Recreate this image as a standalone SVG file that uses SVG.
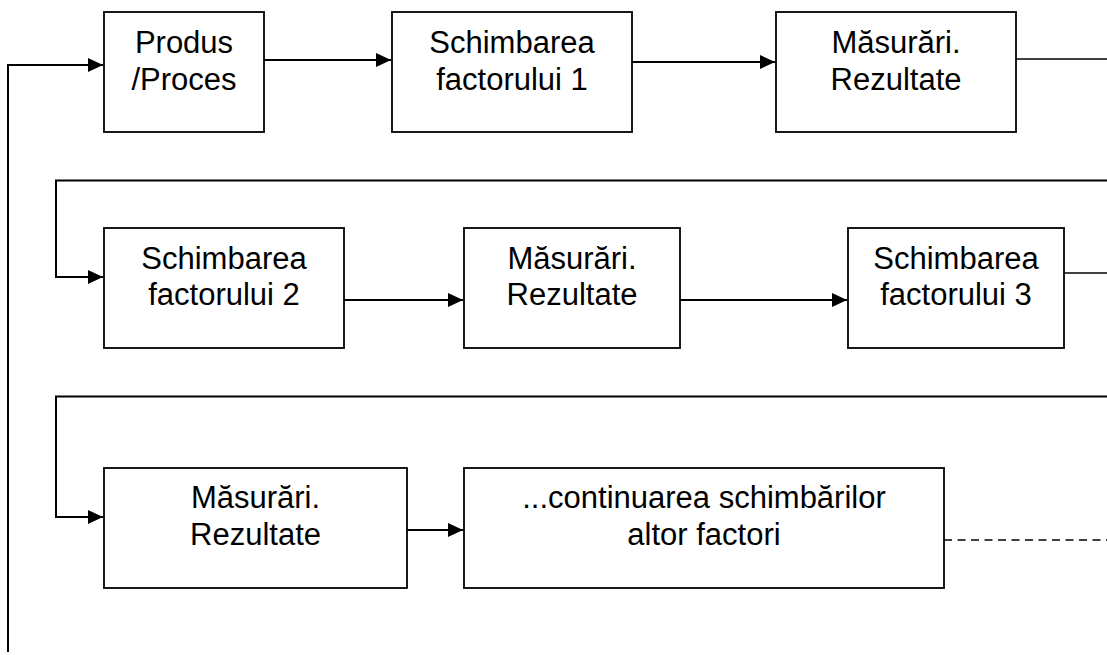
<svg xmlns="http://www.w3.org/2000/svg" width="1107" height="655" viewBox="0 0 1107 655">
  <style>
    .box { fill: #ffffff; stroke: #000000; stroke-width: 1.8; }
    .lbl { font-family: "Liberation Sans", Arial, sans-serif; font-size: 31px; fill: #000000; text-anchor: middle; }
    .wire { fill: none; stroke: #000000; stroke-width: 2; }
    .thin { fill: none; stroke: #000000; stroke-width: 1.5; }
    .dash { fill: none; stroke: #000000; stroke-width: 1.5; stroke-dasharray: 8 5.5; }
  </style>
  <defs>
    <marker id="arrow" markerUnits="userSpaceOnUse" markerWidth="15" markerHeight="14" refX="15" refY="7" orient="auto">
      <path d="M0,0 L15,7 L0,14 z" fill="#000000"/>
    </marker>
  </defs>

  <rect width="1107" height="655" fill="#ffffff"/>

  <!-- connectors -->
  <g id="connectors">
    <!-- feedback rail down the left edge, feeding the first box -->
    <path class="wire" d="M8,652 V65 H103" marker-end="url(#arrow)"/>
    <!-- row 1 -->
    <path class="wire" d="M264,60 H391" marker-end="url(#arrow)"/>
    <path class="wire" d="M632,62 H775" marker-end="url(#arrow)"/>
    <path class="thin" d="M1016,59 H1107"/>
    <!-- row 2 -->
    <path class="wire" d="M1107,180.5 H56 V277 H103" marker-end="url(#arrow)"/>
    <path class="wire" d="M344,300 H463" marker-end="url(#arrow)"/>
    <path class="wire" d="M680,300 H847" marker-end="url(#arrow)"/>
    <path class="thin" d="M1064,273 H1107"/>
    <!-- row 3 -->
    <path class="wire" d="M1107,396.5 H56 V517 H103" marker-end="url(#arrow)"/>
    <path class="wire" d="M407,530 H463" marker-end="url(#arrow)"/>
    <path class="dash" d="M944,540 H1107"/>
  </g>

  <!-- row 1 -->
  <g id="produs-proces">
    <rect class="box" x="104" y="12" width="160" height="120"/>
    <text class="lbl" x="184" y="53">Produs</text>
    <text class="lbl" x="184" y="90">/Proces</text>
  </g>
  <g id="schimbarea-factor-1">
    <rect class="box" x="392" y="12" width="240" height="120"/>
    <text class="lbl" x="512" y="53">Schimbarea</text>
    <text class="lbl" x="512" y="90">factorului 1</text>
  </g>
  <g id="masurari-1">
    <rect class="box" x="776" y="12" width="240" height="120"/>
    <text class="lbl" x="896" y="53">Măsurări.</text>
    <text class="lbl" x="896" y="90">Rezultate</text>
  </g>

  <!-- row 2 -->
  <g id="schimbarea-factor-2">
    <rect class="box" x="104" y="228" width="240" height="120"/>
    <text class="lbl" x="224" y="269">Schimbarea</text>
    <text class="lbl" x="224" y="305">factorului 2</text>
  </g>
  <g id="masurari-2">
    <rect class="box" x="464" y="228" width="216" height="120"/>
    <text class="lbl" x="572" y="269">Măsurări.</text>
    <text class="lbl" x="572" y="305">Rezultate</text>
  </g>
  <g id="schimbarea-factor-3">
    <rect class="box" x="848" y="228" width="216" height="120"/>
    <text class="lbl" x="956" y="269">Schimbarea</text>
    <text class="lbl" x="956" y="305">factorului 3</text>
  </g>

  <!-- row 3 -->
  <g id="masurari-3">
    <rect class="box" x="104" y="468" width="303" height="120"/>
    <text class="lbl" x="255.5" y="508">Măsurări.</text>
    <text class="lbl" x="255.5" y="545">Rezultate</text>
  </g>
  <g id="continuare">
    <rect class="box" x="464" y="468" width="480" height="120"/>
    <text class="lbl" x="704" y="508">...continuarea schimbărilor</text>
    <text class="lbl" x="704" y="545">altor factori</text>
  </g>
</svg>
